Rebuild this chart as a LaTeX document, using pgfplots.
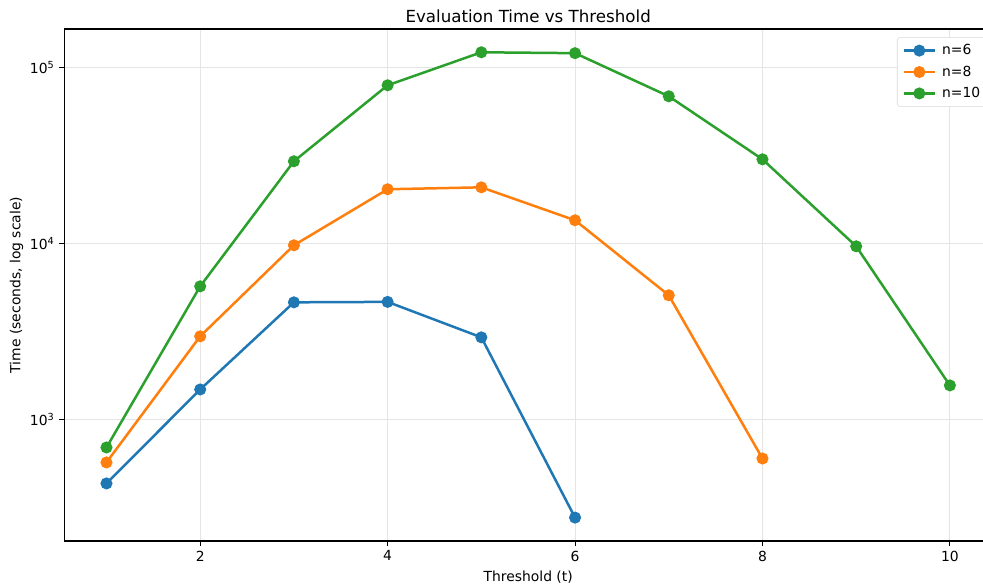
\documentclass[border=0pt]{standalone}
\usepackage{fontspec}
\setmainfont{DejaVu Sans}
\usepackage{pgfplots}
\pgfplotsset{compat=1.18}
\definecolor{tabblue}{HTML}{1F77B4}
\definecolor{taborange}{HTML}{FF7F0E}
\definecolor{tabgreen}{HTML}{2CA02C}
\begin{document}
\begin{tikzpicture}
\begin{scope}
\clip (0,0) rectangle (707.76pt,421.2pt);
\begin{axis}[
  at={(46.3pt,31.68pt)}, anchor=south west,
  scale only axis, width=668pt, height=368.64pt,
  ymode=log, log basis y=10,
  xmin=0.55, xmax=10.45, ymin=204, ymax=164900,
  axis y line*=left,
  xtick={2,4,6,8,10},
  ytick={1000,10000,100000},
  yticklabels={10\textsuperscript{3},10\textsuperscript{4},10\textsuperscript{5}},
  /pgf/number format/assume math mode=true,
  tick label style={font=\fontsize{10}{12}\selectfont},
  tick align=outside, tick pos=left,
  major tick length=3.5pt, minor tick length=2pt,
  every tick/.style={black, line width=0.6pt},
  grid=major, major grid style={gray!20, line width=0.6pt},
  axis line style={line width=0.8pt, -},
  title={Evaluation Time vs Threshold},
  title style={font=\fontsize{12}{14}\selectfont, yshift=-5pt},
  xlabel={Threshold (t)}, ylabel={Time (seconds, log scale)},
  label style={font=\fontsize{10}{12}\selectfont},
  ylabel style={yshift=-2pt},
  legend style={at={(0.8975,0.984)}, anchor=north west, font=\fontsize{10}{12}\selectfont, draw=gray!30, rounded corners=2pt, row sep=2.5pt, inner xsep=4pt, inner ysep=3pt,
    /tikz/every odd column/.append style={column sep=2.5pt}},
  legend cell align=left,
  legend image code/.code={\draw[mark repeat=2,mark phase=2] plot coordinates {(0pt,0pt) (11pt,0pt) (22pt,0pt)};},
  every axis plot/.append style={line width=1.8pt, mark=*, mark size=3.4pt},
]
\addplot[color=tabblue, mark options={fill=tabblue}] coordinates {(1,433) (2,1480) (3,4624) (4,4650) (5,2925) (6,277)};
\addlegendentry{n=6}
\addplot[color=taborange, mark options={fill=taborange}] coordinates {(1,570) (2,2965) (3,9750) (4,20280) (5,20800) (6,13520) (7,5070) (8,600)};
\addlegendentry{n=8}
\addplot[color=tabgreen, mark options={fill=tabgreen}] coordinates {(1,693) (2,5700) (3,29240) (4,79000) (5,121600) (6,120200) (7,68400) (8,30000) (9,9620) (10,1560)};
\addlegendentry{n=10}
\end{axis}
\end{scope}
\pgfresetboundingbox
\useasboundingbox (0,0) rectangle (707.76pt,421.2pt);
\end{tikzpicture}
\end{document}
